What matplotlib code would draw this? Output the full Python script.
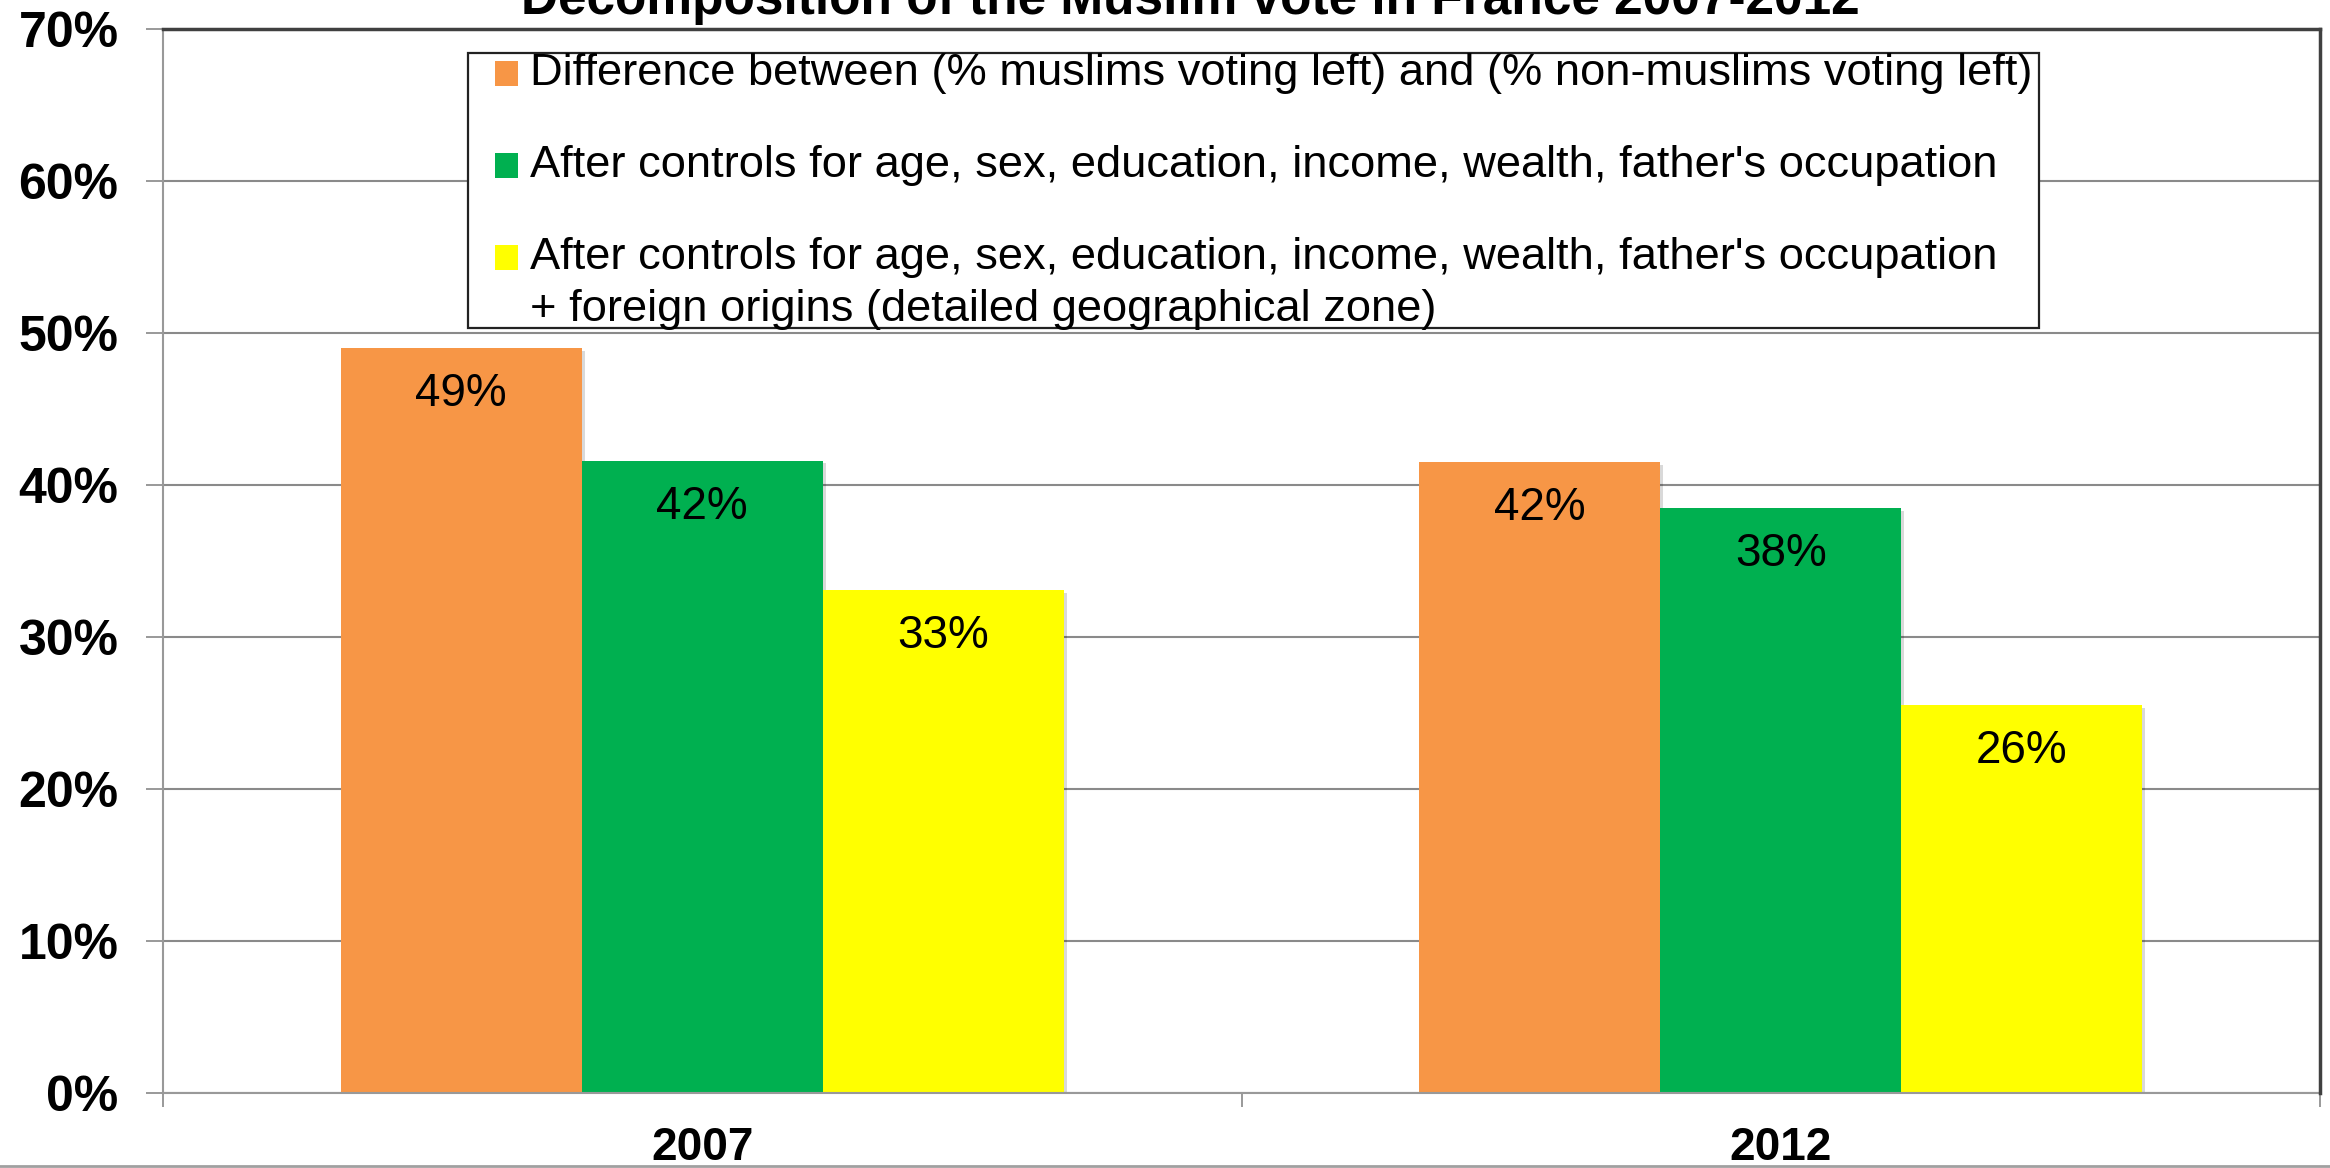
import numpy as np
import matplotlib
matplotlib.use("Agg")
import matplotlib.pyplot as plt
from matplotlib.patches import Rectangle
from matplotlib.lines import Line2D
from matplotlib import patheffects as pe

plt.rcParams["font.family"] = ["Liberation Sans", "DejaVu Sans"]

# data
years = ["2007", "2012"]
series_names = [
    "Difference between (% muslims voting left) and (% non-muslims voting left)",
    "After controls for age, sex, education, income, wealth, father's occupation",
    "After controls for age, sex, education, income, wealth, father's occupation\n"
    "+ foreign origins (detailed geographical zone)",
]
diff_raw = [49.0, 41.5]
after_controls = [41.6, 38.5]
after_origins = [33.1, 25.5]
bar_labels = [["49%", "42%"], ["42%", "38%"], ["33%", "26%"]]
colors = ["#F79646", "#00B050", "#FFFF00"]
y_ticks = [0, 10, 20, 30, 40, 50, 60, 70]

W, H = 2330, 1168
fig = plt.figure(figsize=(W / 100, H / 100), dpi=100)
ax = fig.add_axes([163 / W, 1 - 1093 / H, (2320 - 163) / W, (1093 - 29) / H])

x = np.arange(len(years))
bw = 0.2235
shadow = [pe.SimplePatchShadow(offset=(2, -2), shadow_rgbFace="#000000", alpha=0.15), pe.Normal()]

for i, vals in enumerate([diff_raw, after_controls, after_origins]):
    bars = ax.bar(x + (i - 1) * bw, vals, width=bw, color=colors[i], zorder=2)
    for b in bars:
        b.set_path_effects(shadow)
    for j, b in enumerate(bars):
        ax.annotate(bar_labels[i][j], (b.get_x() + b.get_width() / 2, b.get_height()),
                    xytext=(0, -33), textcoords="offset points",
                    ha="center", va="center", fontsize=33, color="black", zorder=3)

ax.set_xlim(-0.5, 1.5)
ax.set_ylim(0, 70)
ax.set_yticks(y_ticks)
ax.set_yticklabels([f"{t}%" for t in y_ticks], fontsize=36, fontweight="bold")
ax.set_xticks(x)
ax.set_xticklabels(years, fontsize=33, fontweight="bold")
ax.set_xticks([-0.5, 0.5, 1.5], minor=True)
ax.tick_params(axis="x", which="major", length=0, pad=24)
ax.tick_params(axis="x", which="minor", length=10, width=1.4, color="#999999", direction="out")
ax.tick_params(axis="y", length=12, width=1.4, color="#999999", direction="out", pad=20)

ax.set_axisbelow(True)
ax.yaxis.grid(True, color="#8a8a8a", linewidth=1.5, zorder=0)

for s in ["left", "bottom"]:
    ax.spines[s].set_color("#999999")
    ax.spines[s].set_linewidth(1.5)
for s in ["top", "right"]:
    ax.spines[s].set_color("#404040")
    ax.spines[s].set_linewidth(2.5)
    ax.spines[s].set_zorder(4)

# title, cut at top of the picture like the original
fig.text(1190 / W, 1 - 14 / H, "Decomposition of the Muslim vote in France 2007-2012",
         ha="center", va="baseline", fontsize=37, fontweight="bold")

# legend box, laid out by hand
def fx(px):
    return px / W

def fy(py):
    return 1 - py / H

fig.patches.append(Rectangle((fx(468), fy(328)), fx(2039) - fx(468), fy(53) - fy(328),
                             transform=fig.transFigure, facecolor="white",
                             edgecolor="#222222", linewidth=1.6, zorder=5))
entry_y = [74, 166, 258]
for i, name in enumerate(series_names):
    fig.patches.append(Rectangle((fx(495), fy(entry_y[i] + 12)), fx(518) - fx(495), 25 / H,
                                 transform=fig.transFigure, facecolor=colors[i],
                                 edgecolor="none", zorder=6))
    lines = name.split("\n")
    for k, line in enumerate(lines):
        fig.text(fx(530), fy(entry_y[i] + k * 51), line, ha="left", va="center",
                 fontsize=32.6, zorder=7)

# thin frame line at the bottom of the picture
fig.add_artist(Line2D([0, 1], [fy(1166), fy(1166)], transform=fig.transFigure,
                      color="#a0a0a0", linewidth=2))

fig.savefig("out.png", dpi=100, facecolor="white")
